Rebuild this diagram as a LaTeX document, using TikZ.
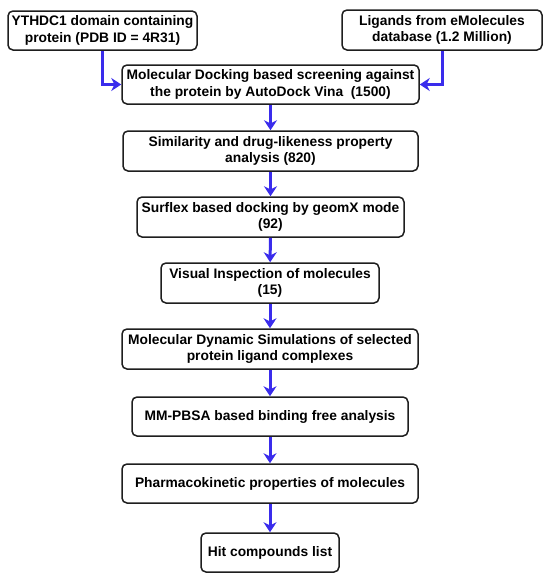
\documentclass[tikz,border=0pt]{standalone}
\usepackage{fontspec}
\setmainfont{Liberation Sans}
\usepackage{tikz}
\usetikzlibrary{arrows.meta,positioning}
\usepackage{xcolor}
\definecolor{flowblue}{RGB}{58,44,236}
\definecolor{boxline}{RGB}{30,30,30}
\tikzstyle{stepbox} = [draw=boxline, line width=1.5pt, rounded corners=5pt, fill=white, align=center, inner sep=0pt, minimum height=39pt, font=\fontsize{13.8}{16.4}\selectfont\bfseries]
\tikzstyle{arrow} = [line width=3pt, -{Stealth[length=10pt,width=13pt]}, color=flowblue]

\begin{document}
\begin{tikzpicture}[x=1pt, y=-1pt]
\useasboundingbox (0,0) rectangle (550,581);
% inputs
\node[stepbox, minimum width=189pt] (protein) at (102.5,30.5) {YTHDC1 domain containing\\protein (PDB ID = 4R31)};
\node[stepbox, minimum width=200pt, minimum height=40pt] (ligands) at (442,30) {Ligands from eMolecules\\database (1.2 Million)};

% screening steps
\node[stepbox, minimum width=297pt] (vina) at (270.5,84.5) {Molecular Docking based screening against\\the protein by AutoDock Vina~~(1500)};
\node[stepbox, minimum width=295pt, minimum height=40pt] (similarity) at (270.5,151) {Similarity and drug-likeness property\\analysis (820)};
\node[stepbox, minimum width=267pt, minimum height=40pt] (surflex) at (270.5,217) {Surflex based docking by geomX mode\\(92)};
\node[stepbox, minimum width=218pt, minimum height=40pt] (visual) at (270,283) {Visual Inspection of molecules\\(15)};
\node[stepbox, minimum width=296pt, minimum height=40pt] (md) at (270,349) {Molecular Dynamic Simulations of selected\\protein ligand complexes};
\node[stepbox, minimum width=276pt] (mmpbsa) at (270,416.5) {MM-PBSA based binding free analysis};
\node[stepbox, minimum width=296pt] (pk) at (270,483.5) {Pharmacokinetic properties of molecules};
\node[stepbox, minimum width=138pt] (hits) at (270,552.5) {Hit compounds list};

% arrows
\draw[arrow] (protein.south) |- (vina.west);
\draw[arrow] (ligands.south) |- (vina.east);
\draw[arrow] (vina) -- (similarity);
\draw[arrow] (similarity) -- (surflex);
\draw[arrow] (surflex) -- (visual);
\draw[arrow] (visual) -- (md);
\draw[arrow] (md) -- (mmpbsa);
\draw[arrow] (mmpbsa) -- (pk);
\draw[arrow] (pk) -- (hits);
\end{tikzpicture}
\end{document}
